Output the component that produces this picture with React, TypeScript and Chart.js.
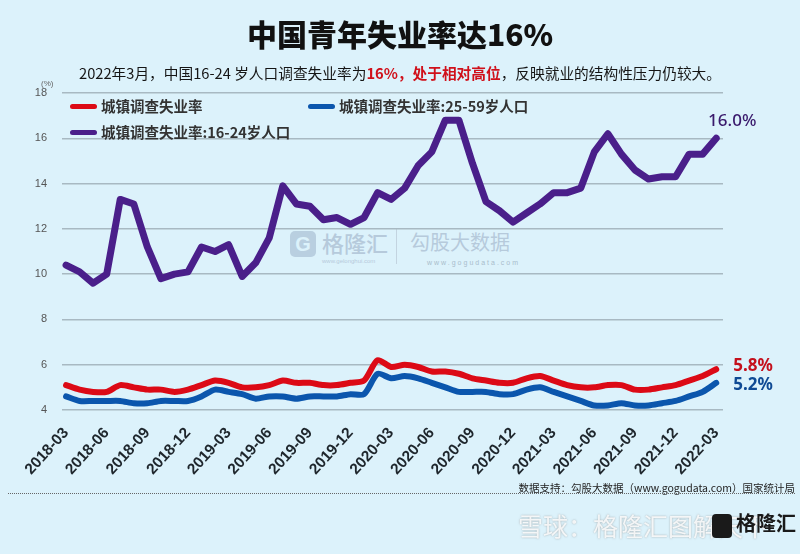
import React, { useEffect, useRef } from "react";
import { Chart, registerables } from "chart.js";

Chart.register(...registerables);

// ---------- DATA ----------
const months = [
  "2018-03", "2018-04", "2018-05", "2018-06", "2018-07", "2018-08", "2018-09", "2018-10", "2018-11", "2018-12",
  "2019-01", "2019-02", "2019-03", "2019-04", "2019-05", "2019-06", "2019-07", "2019-08", "2019-09", "2019-10", "2019-11", "2019-12",
  "2020-01", "2020-02", "2020-03", "2020-04", "2020-05", "2020-06", "2020-07", "2020-08", "2020-09", "2020-10", "2020-11", "2020-12",
  "2021-01", "2021-02", "2021-03", "2021-04", "2021-05", "2021-06", "2021-07", "2021-08", "2021-09", "2021-10", "2021-11", "2021-12",
  "2022-01", "2022-02", "2022-03",
];

// 城镇调查失业率
const overallRate = [
  5.1, 4.9, 4.8, 4.8, 5.1, 5.0, 4.9, 4.9, 4.8, 4.9,
  5.1, 5.3, 5.2, 5.0, 5.0, 5.1, 5.3, 5.2, 5.2, 5.1, 5.1, 5.2,
  5.3, 6.2, 5.9, 6.0, 5.9, 5.7, 5.7, 5.6, 5.4, 5.3, 5.2, 5.2,
  5.4, 5.5, 5.3, 5.1, 5.0, 5.0, 5.1, 5.1, 4.9, 4.9, 5.0, 5.1,
  5.3, 5.5, 5.8,
];

// 城镇调查失业率:25-59岁人口
const rate25to59 = [
  4.6, 4.4, 4.4, 4.4, 4.4, 4.3, 4.3, 4.4, 4.4, 4.4,
  4.6, 4.9, 4.8, 4.7, 4.5, 4.6, 4.6, 4.5, 4.6, 4.6, 4.6, 4.7,
  4.7, 5.6, 5.4, 5.5, 5.4, 5.2, 5.0, 4.8, 4.8, 4.8, 4.7, 4.7,
  4.9, 5.0, 4.8, 4.6, 4.4, 4.2, 4.2, 4.3, 4.2, 4.2, 4.3, 4.4,
  4.6, 4.8, 5.2,
];

// 城镇调查失业率:16-24岁人口
const rate16to24 = [
  10.4, 10.1, 9.6, 10.0, 13.3, 13.1, 11.2, 9.8, 10.0, 10.1,
  11.2, 11.0, 11.3, 9.9, 10.5, 11.6, 13.9, 13.1, 13.0, 12.4, 12.5, 12.2,
  12.5, 13.6, 13.3, 13.8, 14.8, 15.4, 16.8, 16.8, 14.9, 13.2, 12.8, 12.3,
  12.7, 13.1, 13.6, 13.6, 13.8, 15.4, 16.2, 15.3, 14.6, 14.2, 14.3, 14.3,
  15.3, 15.3, 16.0,
];

const seriesNames = ["城镇调查失业率", "城镇调查失业率:25-59岁人口", "城镇调查失业率:16-24岁人口"];
const seriesColors = ["#dc0a16", "#0b56ad", "#4a1f8a"];
const endLabelColors = ["#c4101c", "#0f4a94", "#3a1a6c"];

const xTickIndexes = [0, 3, 6, 9, 12, 15, 18, 21, 24, 27, 30, 33, 36, 39, 42, 45, 48];
const yMin = 4;
const yMax = 18;
const yStep = 2;

const latinFont = "'Liberation Sans', Arial, sans-serif";
const cjkFont = "'Noto Sans CJK SC', 'Noto Sans', sans-serif";

// end-of-line value labels, offsets relative to last point
const endLabelOffsets = [
  { dx: 17, dy: -3, align: "left" as CanvasTextAlign, weight: "bold" },
  { dx: 17, dy: 2, align: "left" as CanvasTextAlign, weight: "bold" },
  { dx: 16, dy: -17, align: "center" as CanvasTextAlign, weight: "500" },
];

const endLabelsPlugin = {
  id: "endLabels",
  afterDatasetsDraw(chart: any) {
    const ctx = chart.ctx;
    ctx.save();
    chart.data.datasets.forEach((ds: any, i: number) => {
      const meta = chart.getDatasetMeta(i);
      const pt = meta.data[meta.data.length - 1];
      const v = ds.data[ds.data.length - 1].y;
      const off = endLabelOffsets[i];
      ctx.font = `${off.weight} 17px 'Noto Sans', ${latinFont}`;
      ctx.fillStyle = endLabelColors[i];
      ctx.textAlign = off.align;
      ctx.textBaseline = "middle";
      ctx.fillText(`${v.toFixed(1)}%`, pt.x + off.dx, pt.y + off.dy);
    });
    ctx.restore();
  },
};

export default function App() {
  const canvasRef = useRef<HTMLCanvasElement | null>(null);

  useEffect(() => {
    if (!canvasRef.current) return;
    const seriesData = [overallRate, rate25to59, rate16to24];
    const chart = new Chart(canvasRef.current, {
      type: "line",
      data: {
        datasets: seriesData.map((arr, i) => ({
          label: seriesNames[i],
          data: arr.map((v, idx) => ({ x: idx, y: v })),
          borderColor: seriesColors[i],
          backgroundColor: seriesColors[i],
          borderWidth: i === 2 ? 7 : 6,
          pointRadius: 0,
          tension: i === 2 ? 0 : 0.25,
          borderJoinStyle: "round",
          borderCapStyle: "round",
          fill: false,
        })),
      },
      options: {
        animation: false,
        responsive: false,
        maintainAspectRatio: false,
        layout: { padding: { left: 0, right: 77, top: 93, bottom: 0 } },
        plugins: {
          legend: { display: false },
          tooltip: { enabled: false },
        },
        scales: {
          x: {
            type: "linear",
            min: -0.3,
            max: 48.5,
            grid: { display: false },
            border: { display: false },
            afterBuildTicks: (scale: any) => {
              scale.ticks = xTickIndexes.map((v) => ({ value: v }));
            },
            afterFit: (scale: any) => {
              scale.height = 144;
            },
            ticks: {
              autoSkip: false,
              minRotation: 48,
              maxRotation: 48,
              padding: 6,
              color: "#1e262c",
              font: { family: latinFont, size: 15.5, weight: "bold" },
              callback: (value: any) => months[value] ?? "",
            },
          },
          y: {
            min: yMin,
            max: yMax,
            afterFit: (scale: any) => {
              scale.width = 62;
            },
            ticks: {
              stepSize: yStep,
              padding: 15,
              color: "#555",
              font: { family: latinFont, size: 11 },
            },
            grid: { color: "#a8b9c2", lineWidth: 1.5, drawTicks: false },
            border: { display: false },
          },
        },
      },
      plugins: [endLabelsPlugin],
    } as any);
    return () => chart.destroy();
  }, []);

  const legendItems = [
    { left: 70, top: 106, idx: 0 },
    { left: 308, top: 106, idx: 1 },
    { left: 70, top: 132, idx: 2 },
  ];

  return (
    <div
      style={{
        position: "fixed",
        left: 0,
        top: 0,
        width: 800,
        height: 554,
        background: "#dcf2fb",
        overflow: "hidden",
        fontFamily: cjkFont,
      }}
    >
      {/* center watermark */}
      <div style={{ position: "absolute", left: 290, top: 231, width: 26, height: 26, borderRadius: 5, background: "#b9cfe0", color: "#dcf2fb", fontWeight: 900, fontSize: 20, lineHeight: "26px", textAlign: "center", fontFamily: latinFont }}>G</div>
      <div style={{ position: "absolute", left: 322, top: 228, fontSize: 22, lineHeight: "28px", color: "#b6cadb", fontWeight: 500 }}>格隆汇</div>
      <div style={{ position: "absolute", left: 322, top: 257, fontSize: 6, lineHeight: "8px", color: "#b6cadb", fontFamily: latinFont }}>www.gelonghui.com</div>
      <div style={{ position: "absolute", left: 396, top: 228, width: 1, height: 36, background: "#c3d4e0" }} />
      <div style={{ position: "absolute", left: 410, top: 229, fontSize: 20, lineHeight: "26px", color: "#b6cadb" }}>勾股大数据</div>
      <div style={{ position: "absolute", left: 427, top: 258, fontSize: 7, lineHeight: "9px", color: "#a9bdcc", letterSpacing: 2, fontFamily: latinFont }}>www.gogudata.com</div>

      <canvas
        ref={canvasRef}
        width={800}
        height={554}
        style={{ position: "absolute", left: 0, top: 0, width: 800, height: 554, display: "block" }}
      />

      {/* title */}
      <div style={{ position: "absolute", left: 0, top: 0, width: 800, height: 66, lineHeight: "66px", textAlign: "center", fontSize: 30, fontWeight: 900, color: "#111" }}>
        中国青年失业率达16%
      </div>
      {/* subtitle */}
      <div style={{ position: "absolute", left: 0, top: 63, width: 800, lineHeight: "20px", textAlign: "center", fontSize: 14.7, color: "#151515", whiteSpace: "nowrap" }}>
        2022年3月，中国16-24 岁人口调查失业率为
        <span style={{ color: "#d0101a", fontWeight: 700 }}>16%，处于相对高位</span>
        ，反映就业的结构性压力仍较大。
      </div>
      {/* unit */}
      <div style={{ position: "absolute", left: 41, top: 79, fontSize: 8, lineHeight: "10px", color: "#666", fontFamily: latinFont }}>(%)</div>

      {/* legend */}
      {legendItems.map((it) => (
        <React.Fragment key={it.idx}>
          <div style={{ position: "absolute", left: it.left, top: it.top - 2.5, width: 27, height: 5, borderRadius: 3, background: seriesColors[it.idx] }} />
          <div style={{ position: "absolute", left: it.left + 31, top: it.top - 10, lineHeight: "20px", fontSize: 14.5, fontWeight: 700, color: "#333", whiteSpace: "nowrap" }}>
            {seriesNames[it.idx]}
          </div>
        </React.Fragment>
      ))}

      {/* source */}
      <div style={{ position: "absolute", right: 5, top: 480, fontSize: 10.5, lineHeight: "16px", color: "#222", whiteSpace: "nowrap" }}>
        数据支持：勾股大数据（www.gogudata.com）国家统计局
      </div>
      <div style={{ position: "absolute", left: 8, top: 493, width: 787, height: 0, borderTop: "1px dotted #666" }} />

      {/* bottom watermark */}
      <div style={{ position: "absolute", left: 518, top: 508, fontSize: 25, lineHeight: "34px", color: "rgba(255,255,255,0.85)", textShadow: "0 0 2px rgba(120,120,120,0.6)", whiteSpace: "nowrap" }}>
        雪球：格隆汇图解天下
      </div>
      <div style={{ position: "absolute", left: 712, top: 514, width: 20, height: 24, borderRadius: 4, background: "#1a1a1a" }} />
      <div style={{ position: "absolute", left: 736, top: 510, fontSize: 20, lineHeight: "26px", fontWeight: 700, color: "#1a1a1a" }}>格隆汇</div>
    </div>
  );
}
